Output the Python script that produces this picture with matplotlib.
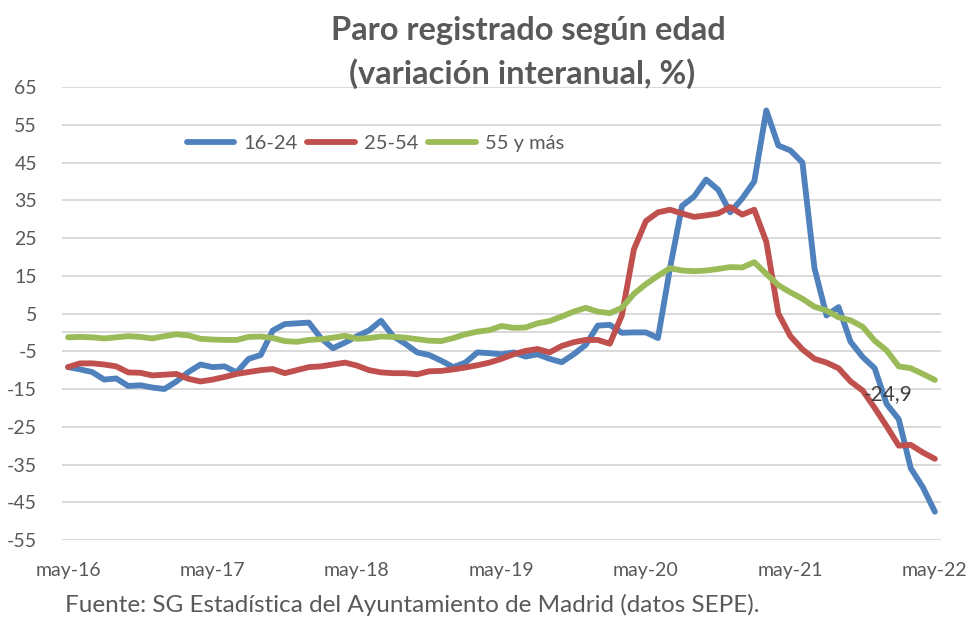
import numpy as np
import matplotlib
matplotlib.use("Agg")
import matplotlib.pyplot as plt

plt.rcParams['font.family'] = ['Lato', 'DejaVu Sans']

# monthly year-on-year change (%), may-16 .. may-22
paro_16_24 = [-9.2, -9.8, -10.5, -12.5, -12.2, -14.2, -14.0, -14.6, -15.0, -13.0,
              -10.5, -8.5, -9.2, -9.0, -10.6, -7.0, -6.0, 0.5, 2.2, 2.4,
              2.6, -1.5, -4.2, -2.7, -1.0, 0.5, 3.1, -1.0, -3.0, -5.3,
              -6.0, -7.5, -9.2, -8.0, -5.3, -5.5, -5.8, -5.3, -6.4, -5.8,
              -7.0, -7.9, -5.8, -3.3, 1.8, 2.0, -0.1, 0.0, 0.0, -1.5,
              17.0, 33.5, 36.0, 40.5, 37.8, 31.8, 35.5, 40.0, 58.8, 49.5,
              48.2, 45.0, 17.0, 4.5, 6.7, -2.5, -6.5, -9.5, -19.0, -23.0,
              -36.0, -41.0, -47.5]
paro_25_54 = [-9.2, -8.2, -8.2, -8.5, -9.0, -10.6, -10.7, -11.4, -11.2, -11.0,
              -12.3, -13.0, -12.5, -11.8, -11.0, -10.5, -10.0, -9.7, -10.8, -10.0,
              -9.2, -9.0, -8.5, -8.0, -8.8, -10.0, -10.6, -10.8, -10.8, -11.1,
              -10.3, -10.2, -9.8, -9.3, -8.7, -8.0, -7.0, -5.8, -4.9, -4.4,
              -5.3, -3.6, -2.6, -2.0, -2.0, -3.0, 4.5, 22.0, 29.5, 31.8,
              32.5, 31.5, 30.6, 31.0, 31.5, 33.2, 31.2, 32.5, 24.0, 5.0,
              -1.0, -4.5, -7.0, -8.0, -9.5, -13.0, -15.4, -20.0, -24.9, -30.0,
              -29.8, -31.8, -33.5]
paro_55_mas = [-1.3, -1.2, -1.3, -1.6, -1.3, -1.0, -1.2, -1.6, -1.0, -0.5,
               -0.8, -1.7, -1.9, -2.0, -2.0, -1.2, -1.1, -1.5, -2.3, -2.5,
               -2.0, -1.8, -1.4, -0.9, -1.7, -1.5, -1.1, -1.2, -1.4, -1.8,
               -2.2, -2.3, -1.5, -0.5, 0.2, 0.6, 1.7, 1.2, 1.3, 2.4,
               3.0, 4.2, 5.5, 6.5, 5.5, 5.1, 6.5, 10.2, 12.8, 15.0,
               17.0, 16.4, 16.2, 16.4, 16.8, 17.3, 17.2, 18.6, 15.5, 12.5,
               10.6, 8.9, 6.8, 5.8, 4.0, 3.2, 1.5, -2.2, -4.8, -9.0,
               -9.5, -11.0, -12.6]
series_names = ['16-24', '25-54', '55 y más']
tick_labels = ['may-16', 'may-17', 'may-18', 'may-19', 'may-20', 'may-21', 'may-22']
y_ticks = list(range(-55, 66, 10))
label_idx = 68   # month carrying the "-24,9" data label

colors = ['#4F81BD', '#C0504D', '#9BBB59']
grey = '#595959'

months = np.arange(len(paro_16_24))

fig = plt.figure(figsize=(9.74, 6.19), dpi=100)
ax = fig.add_axes([0.0637, 0.1276, 0.9023, 0.7318])

for v in y_ticks:
    ax.axhline(v, color='#D9D9D9', lw=1.4, zorder=1)
ax.axhline(0, color='#D9D9D9', lw=1.4, zorder=1)

for vals, name, c in zip([paro_16_24, paro_25_54, paro_55_mas], series_names, colors):
    ax.plot(months, vals, color=c, lw=4.2, label=name, zorder=3,
            solid_joinstyle='round', solid_capstyle='round')

ax.annotate('-24,9', xy=(months[label_idx], paro_25_54[label_idx]),
            xytext=(1, 23), textcoords='offset points', ha='center', va='center',
            fontsize=15, color='#404040', zorder=4)

ax.set_xlim(-0.5, len(months) - 0.5)
ax.set_ylim(-55, 65)
ax.set_yticks(y_ticks)
ax.set_yticklabels([str(v) for v in y_ticks])
ax.set_xticks(months[::12])
ax.set_xticklabels(tick_labels)
ax.tick_params(axis='both', length=0, labelsize=14, colors=grey)
ax.tick_params(axis='y', pad=18)
ax.tick_params(axis='x', pad=16)
for s in ax.spines.values():
    s.set_visible(False)

leg = ax.legend(loc='center left', bbox_to_anchor=(0.121, 0.876), ncol=3,
                frameon=False, fontsize=14.5, handlelength=2.35, handletextpad=0.45,
                columnspacing=0.5)
for t in leg.get_texts():
    t.set_color(grey)

fig.text(0.542, 0.9515, 'Paro registrado según edad', ha='center', va='center',
         fontsize=23.5, fontweight='bold', color=grey)
fig.text(0.536, 0.881, '(variación interanual, %)', ha='center', va='center',
         fontsize=23.5, fontweight='bold', color=grey)
fig.text(0.067, 0.022, 'Fuente: SG Estadística del Ayuntamiento de Madrid (datos SEPE).',
         ha='left', va='center', fontsize=17.5, color=grey)

fig.savefig('out.png', dpi=100)
